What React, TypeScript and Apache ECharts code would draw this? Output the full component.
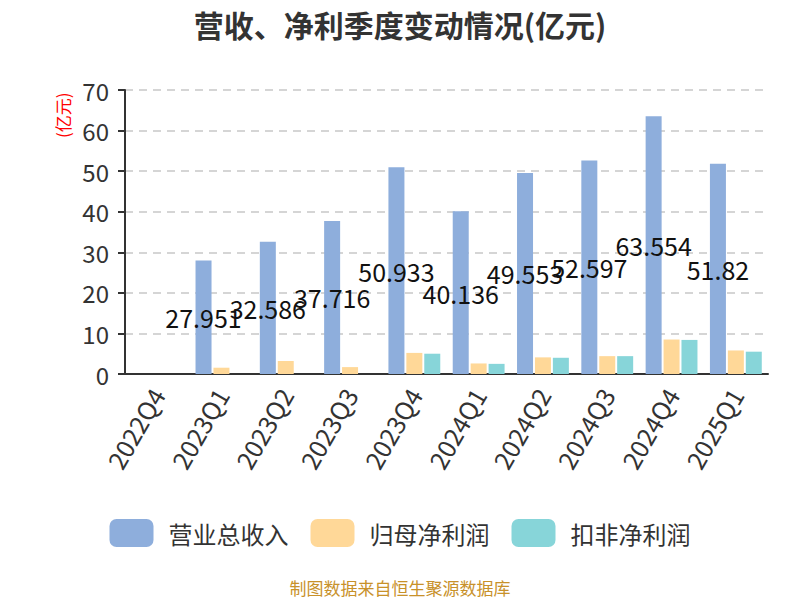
import React, { useEffect, useRef } from "react";
import * as echarts from "echarts";

const categories = ["2022Q4", "2023Q1", "2023Q2", "2023Q3", "2023Q4", "2024Q1", "2024Q2", "2024Q3", "2024Q4", "2025Q1"];
const revenue = [null, 27.951, 32.586, 37.716, 50.933, 40.136, 49.553, 52.597, 63.554, 51.82];
const netProfit = [null, 1.55, 3.2, 1.7, 5.2, 2.6, 4.1, 4.4, 8.5, 5.8];
const deductedProfit = [null, null, null, null, 5.0, 2.5, 4.0, 4.4, 8.4, 5.5];
const seriesNames = ["营业总收入", "归母净利润", "扣非净利润"];

const FONT = "'Noto Sans CJK SC', 'Noto Sans', sans-serif";

export default function App() {
  const ref = useRef<HTMLDivElement>(null);
  useEffect(() => {
    document.body.style.margin = "0";
    if (!ref.current) return;
    const chart = echarts.init(ref.current, null, { renderer: "svg" });
    chart.setOption({
      animation: false,
      textStyle: { fontFamily: FONT },
      title: {
        text: "营收、净利季度变动情况(亿元)",
        left: "center",
        top: 4,
        textStyle: { fontSize: 30, fontWeight: "bold", color: "#333", fontFamily: FONT },
      },
      color: ["#8eaedc", "#ffd898", "#87d5d9"],
      legend: {
        bottom: 48,
        left: "center",
        itemWidth: 44,
        itemHeight: 28,
        itemGap: 22,
        itemStyle: { borderRadius: 7 },
        textStyle: { fontSize: 24, color: "#333", fontFamily: FONT, padding: [0, 0, 0, 10] },
        data: seriesNames,
      },
      grid: { left: 125, right: 32, top: 90, bottom: 226, containLabel: false },
      xAxis: {
        type: "category",
        data: categories,
        axisLine: { lineStyle: { color: "#333", width: 2 } },
        axisTick: { length: 7, lineStyle: { color: "#333", width: 2 } },
        axisLabel: { rotate: 60, fontSize: 25, color: "#333", margin: 16, fontFamily: FONT },
      },
      yAxis: {
        type: "value",
        min: 0,
        max: 70,
        interval: 10,
        axisLine: { show: true, lineStyle: { color: "#333", width: 2 } },
        axisTick: { show: true, length: 7, lineStyle: { color: "#333", width: 2 } },
        axisLabel: { fontSize: 24, color: "#333", margin: 16, fontFamily: FONT },
        splitLine: { lineStyle: { color: "#c8c8c8", type: [8, 6], width: 1.5 } },
      },
      graphic: [
        {
          type: "text",
          x: 54,
          y: 138,
          rotation: Math.PI / 2,
          style: { text: "(亿元)", fontSize: 17, fill: "#ff0000", fontFamily: FONT },
        },
        {
          type: "text",
          left: "center",
          top: 579,
          style: { text: "制图数据来自恒生聚源数据库", fontSize: 17, fill: "#c8912a", fontFamily: FONT },
        },
      ],
      series: [
        {
          name: seriesNames[0],
          type: "bar",
          data: revenue,
          barWidth: 16,
          barGap: "12%",
          label: { show: true, position: "inside", color: "#111", fontSize: 25, fontFamily: FONT },
        },
        { name: seriesNames[1], type: "bar", data: netProfit, barWidth: 16, barGap: "12%" },
        { name: seriesNames[2], type: "bar", data: deductedProfit, barWidth: 16, barGap: "12%" },
      ],
    });
    return () => chart.dispose();
  }, []);
  return <div ref={ref} style={{ width: 800, height: 600 }} />;
}
